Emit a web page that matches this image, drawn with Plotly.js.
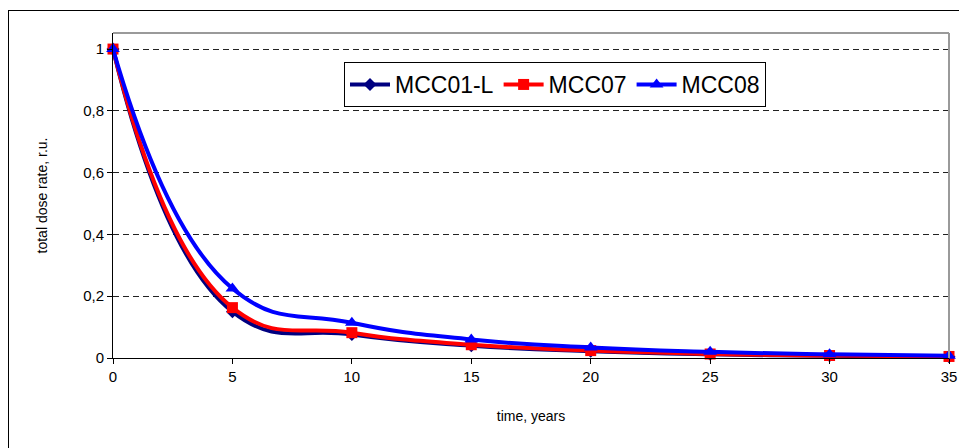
<!DOCTYPE html>
<html>
<head>
<meta charset="utf-8">
<script src="https://cdn.plot.ly/plotly-3.0.1.min.js"></script>
<style>
html,body{margin:0;padding:0;background:#fff;overflow:hidden;}
#wrap{position:relative;width:959px;height:448px;overflow:hidden;}
#chart{width:959px;height:448px;}
#frame{position:absolute;left:8px;top:10px;width:1000px;height:600px;border-top:1.5px solid #000;border-left:1.5px solid #000;pointer-events:none;box-sizing:border-box;}
</style>
</head>
<body>
<div id="wrap">
<div id="chart"></div>
<div id="frame"></div>
</div>
<script>
const years = [0, 5, 10, 15, 20, 25, 30, 35];
const mcc01L = [1, 0.150, 0.076, 0.040, 0.022, 0.012, 0.007, 0.004];
const mcc07  = [1, 0.163, 0.082, 0.043, 0.024, 0.013, 0.008, 0.005];
const mcc08  = [1, 0.225, 0.114, 0.060, 0.034, 0.020, 0.012, 0.007];
const seriesNames = ['MCC01-L', 'MCC07', 'MCC08'];

function trace(name, y, color, symbol, size) {
  return {
    x: years, y: y, name: name, type: 'scatter', mode: 'lines+markers',
    line: {color: color, width: 4, shape: 'spline', smoothing: 1.3},
    marker: {color: color, symbol: symbol, size: size},
    cliponaxis: false
  };
}

const data = [
  trace(seriesNames[0], mcc01L, '#000080', 'diamond', 10),
  trace(seriesNames[1], mcc07, '#ff0000', 'square', 11),
  trace(seriesNames[2], mcc08, '#0000ff', 'triangle-up', 12)
];

const L = 113, R = 949, T = 33, B = 358;
const W = R - L, H = B - T;
function px(x) { return (x - L) / W; }
function py(y) { return (B - y) / H; }

const layout = {
  width: 959, height: 448,
  margin: {l: L, r: 959 - R, t: T, b: 448 - B},
  paper_bgcolor: '#fff', plot_bgcolor: '#fff',
  separators: ',.',
  font: {family: 'Liberation Sans, Arial, sans-serif', color: '#000', size: 15},
  showlegend: true,
  legend: {
    orientation: 'h', x: px(344), y: py(62), xanchor: 'left', yanchor: 'top',
    bordercolor: '#000', borderwidth: 1, bgcolor: '#fff',
    font: {size: 23, family: 'Liberation Sans, Arial, sans-serif'},
    itemwidth: 40, tracegroupgap: 0
  },
  xaxis: {
    range: [0, 35], dtick: 5, tick0: 0,
    showline: true, linecolor: '#000', linewidth: 1,
    ticks: 'outside', ticklen: 5, tickcolor: '#000',
    showgrid: false, zeroline: false,
    tickfont: {size: 15},
    title: {text: 'time, years', font: {size: 14}, standoff: 27}
  },
  yaxis: {
    range: [0, 1.052], dtick: 0.2, tick0: 0,
    showline: true, linecolor: '#000', linewidth: 1,
    ticks: 'outside', ticklen: 5, tickcolor: '#000',
    showgrid: true, gridcolor: '#222', gridwidth: 1, griddash: '6px,4px',
    zeroline: false,
    tickfont: {size: 15},
    title: {text: 'total dose rate, r.u.', font: {size: 14}, standoff: 32}
  },
  shapes: [
    {type: 'line', xref: 'paper', yref: 'paper', x0: 0, x1: 1, y0: 1, y1: 1,
     line: {color: '#9a9a9a', width: 2}},
    {type: 'line', xref: 'paper', yref: 'paper', x0: 1, x1: 1, y0: 0, y1: 1,
     line: {color: '#9a9a9a', width: 2}}
  ]
};

Plotly.newPlot('chart', data, layout, {displayModeBar: false, staticPlot: true});
</script>
</body>
</html>
